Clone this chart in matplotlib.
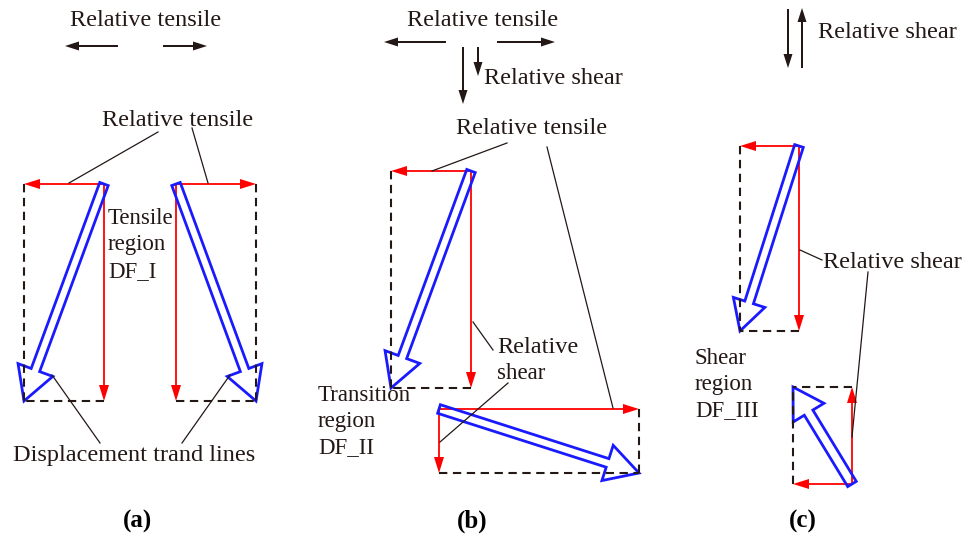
import matplotlib
matplotlib.use("Agg")
import matplotlib.pyplot as plt
from matplotlib.patches import FancyArrow

plt.rcParams['font.family'] = ['Liberation Serif', 'DejaVu Serif']
plt.rcParams['lines.scale_dashes'] = False

DARK = '#231815'
RED = '#ff0000'
BLUE = '#1a1aff'

# displacement boxes: origin corner (where the components start) and opposite corner, in pixels
box_origin = [(104, 184), (176, 184), (471, 171), (439, 409), (799, 146), (852, 484)]
box_corner = [(24, 401), (256, 401), (391, 388), (639, 473), (740, 331), (793, 387)]
# hollow arrow sizes per box: shaft width, head width, head length
trend_width = [9, 9, 9, 9, 9, 10]
trend_head = [(37, 33), (37, 33), (37, 33), (37, 33), (33, 30), (36, 30)]

# black schematic arrows at the top: (tail, head)
load_arrows = [((118, 46), (65, 46)), ((163, 46), (207, 46)),
               ((446, 42), (384, 42)), ((497, 42), (555, 42)),
               ((463, 47), (463, 104)), ((478, 47), (478, 76)),
               ((788, 9), (788, 68)), ((802, 68), (802, 8))]

# leader lines from labels to parts
leaders = [((158, 132), (69, 183)), ((192, 128), (208, 183)),
           ((52, 375), (100, 443)), ((230, 375), (182, 443)),
           ((507, 143), (432, 171)), ((547, 147), (613, 408)),
           ((473, 322), (493, 350)), ((508, 383), (440, 442)),
           ((800, 250), (822, 260)), ((868, 272), (852, 437))]

# centred labels: (x, y, text)
center_labels = [(146, 21, 'Relative tensile'), (178, 121, 'Relative tensile'),
                 (134, 456, 'Displacement trand lines'),
                 (483, 21, 'Relative tensile'), (532, 129, 'Relative tensile')]
# left aligned labels: (x, baseline, text)
left_labels = [(484, 84, 'Relative shear'), (818, 38, 'Relative shear'),
               (823, 268, 'Relative shear'),
               (108, 224, 'Tensile'), (108, 250, 'region'), (108, 277, 'DF_I'),
               (497, 353, 'Relative'), (497, 379, 'shear'),
               (318, 401, 'Transition'), (318, 427, 'region'), (318, 453, 'DF_II'),
               (695, 364, 'Shear'), (695, 390, 'region'), (695, 416, 'DF_III')]
panel_x = [137, 472, 803]
panel_names = ['(a)', '(b)', '(c)']

fig = plt.figure(figsize=(9.73, 5.4), dpi=100)
ax = fig.add_axes([0, 0, 1, 1])
ax.set_xlim(0, 973)
ax.set_ylim(540, 0)
ax.axis('off')

for (ox, oy), (px, py), w, (hw, hl) in zip(box_origin, box_corner, trend_width, trend_head):
    # dashed completion of the parallelogram
    ax.plot([px, px], [oy, py], color=DARK, lw=1.5, dashes=(6, 4))
    ax.plot([ox, px], [py, py], color=DARK, lw=1.5, dashes=(6, 4))
    # red component arrows
    ax.add_patch(FancyArrow(ox, oy, px - ox, 0, width=1.8, head_width=10, head_length=16,
                            length_includes_head=True, color=RED, lw=0))
    ax.add_patch(FancyArrow(ox, oy, 0, py - oy, width=1.8, head_width=10, head_length=16,
                            length_includes_head=True, color=RED, lw=0))
    # blue hollow displacement trend arrow
    ax.add_patch(FancyArrow(ox, oy, px - ox, py - oy, width=w, head_width=hw, head_length=hl,
                            length_includes_head=True, fill=False, edgecolor=BLUE, lw=2,
                            joinstyle='miter'))

for (tx, ty), (hx, hy) in load_arrows:
    ax.add_patch(FancyArrow(tx, ty, hx - tx, hy - ty, width=2, head_width=9, head_length=14,
                            length_includes_head=True, color=DARK, lw=0))

for (x1, y1), (x2, y2) in leaders:
    ax.plot([x1, x2], [y1, y2], color=DARK, lw=0.9)

for x, y, s in center_labels:
    ax.text(x, y, s, ha='center', va='center', fontsize=17.5, color=DARK)
for x, y, s in left_labels:
    ax.text(x, y, s, ha='left', va='baseline', fontsize=17.5 if 'Relative' in s else 16.5,
            color=DARK)
for x, s in zip(panel_x, panel_names):
    ax.text(x, 521, s, ha='center', va='center', fontsize=18, fontweight='bold', color='black')

fig.savefig('out.png', dpi=100)
